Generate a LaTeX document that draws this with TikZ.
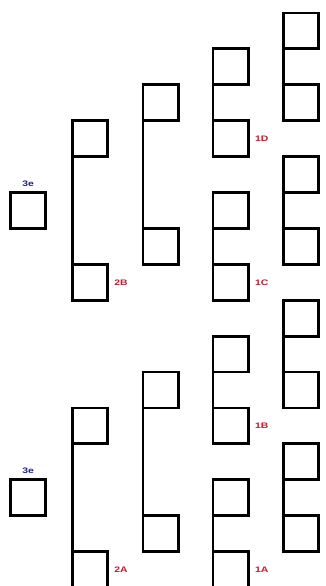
\documentclass[tikz,border=0pt]{standalone}
\usepackage{fontspec}
\setmainfont{Liberation Sans}
\definecolor{lblred}{RGB}{196,28,48}
\definecolor{lblblue}{RGB}{32,32,140}
\begin{document}
\begin{tikzpicture}[x=1pt,y=-1pt,
  box/.style={draw=black,line width=2.8pt,minimum width=35.3pt,minimum height=35.9pt,inner sep=0pt,outer sep=0pt,anchor=north west},
  bracketline/.style={draw=black,line width=2.8pt},
  redlbl/.style={text=lblred,font=\fontsize{8}{9}\selectfont\bfseries,inner sep=0pt,xscale=1.3,anchor=west},
  bluelbl/.style={text=lblblue,font=\fontsize{8}{9}\selectfont\bfseries,inner sep=0pt,xscale=1.3,anchor=south}]
\useasboundingbox[fill=white] (0,0) rectangle (326,586);
% column 1
\node[box] (c1a) at (10.5,192.5) {};
\node[box] (c1b) at (10.5,479.7) {};
\node[bluelbl] (l3eb) at ([yshift=5.5pt]c1a.north) {3e};
\node[bluelbl] (l3ea) at ([yshift=5.5pt]c1b.north) {3e};
% column 2
\node[box] (c2a) at (72.3,120.7) {};
\node[box] (c2b) at (72.3,264.3) {};
\node[box] (c2c) at (72.3,407.9) {};
\node[box] (c2d) at (72.3,551.5) {};
\draw[bracketline] (c2a.south west) -- (c2b.north west);
\draw[bracketline] (c2c.south west) -- (c2d.north west);
\node[redlbl] (l2b) at ([xshift=6.5pt]c2b.east) {2B};
\node[redlbl] (l2a) at ([xshift=6.5pt]c2d.east) {2A};
% column 3
\node[box] (c3a) at (143,84.8) {};
\node[box] (c3b) at (143,228.4) {};
\node[box] (c3c) at (143,372) {};
\node[box] (c3d) at (143,515.6) {};
\draw[bracketline] (c3a.south west) -- (c3b.north west);
\draw[bracketline] (c3c.south west) -- (c3d.north west);
% column 4
\node[box] (c4a) at (213,48.9) {};
\node[box] (c4b) at (213,120.7) {};
\node[box] (c4c) at (213,192.5) {};
\node[box] (c4d) at (213,264.3) {};
\node[box] (c4e) at (213,336.1) {};
\node[box] (c4f) at (213,407.9) {};
\node[box] (c4g) at (213,479.7) {};
\node[box] (c4h) at (213,551.5) {};
\draw[bracketline] (c4a.south west) -- (c4b.north west);
\draw[bracketline] (c4c.south west) -- (c4d.north west);
\draw[bracketline] (c4e.south west) -- (c4f.north west);
\draw[bracketline] (c4g.south west) -- (c4h.north west);
\node[redlbl] (l1d) at ([xshift=6.5pt]c4b.east) {1D};
\node[redlbl] (l1c) at ([xshift=6.5pt]c4d.east) {1C};
\node[redlbl] (l1b) at ([xshift=6.5pt]c4f.east) {1B};
\node[redlbl] (l1a) at ([xshift=6.5pt]c4h.east) {1A};
% column 5
\node[box] (c5a) at (283.3,13) {};
\node[box] (c5b) at (283.3,84.8) {};
\node[box] (c5c) at (283.3,156.6) {};
\node[box] (c5d) at (283.3,228.4) {};
\node[box] (c5e) at (283.3,300.2) {};
\node[box] (c5f) at (283.3,372) {};
\node[box] (c5g) at (283.3,443.8) {};
\node[box] (c5h) at (283.3,515.6) {};
\draw[bracketline] (c5a.south west) -- (c5b.north west);
\draw[bracketline] (c5c.south west) -- (c5d.north west);
\draw[bracketline] (c5e.south west) -- (c5f.north west);
\draw[bracketline] (c5g.south west) -- (c5h.north west);
\end{tikzpicture}
\end{document}
